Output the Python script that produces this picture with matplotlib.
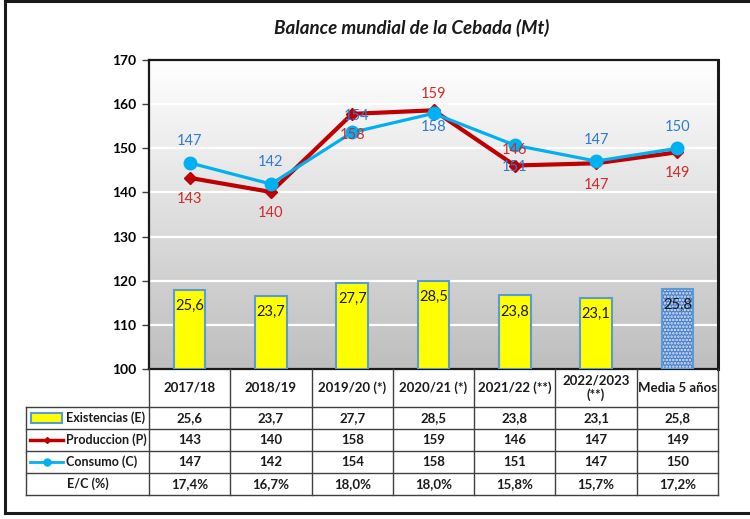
import numpy as np
import matplotlib
matplotlib.use("Agg")
import matplotlib.pyplot as plt
from matplotlib.lines import Line2D
from matplotlib.patches import Rectangle

plt.rcParams['font.family'] = ['Lato', 'DejaVu Sans']

# ---------------- data ----------------
categories = ["2017/18", "2018/19", "2019/20 (*)", "2020/21 (*)", "2021/22 (**)",
              "2022/2023\n(**)", "Media 5 años"]
existencias = [25.6, 23.7, 27.7, 28.5, 23.8, 23.1, 25.8]
produccion = [143.3, 140.1, 157.8, 158.6, 146.1, 146.6, 149.1]
consumo = [146.7, 141.9, 153.6, 157.9, 150.7, 147.1, 150.0]
ratio_ec = ["17,4%", "16,7%", "18,0%", "18,0%", "15,8%", "15,7%", "17,2%"]
existencias_txt = ["25,6", "23,7", "27,7", "28,5", "23,8", "23,1", "25,8"]
produccion_txt = ["143", "140", "158", "159", "146", "147", "149"]
consumo_txt = ["147", "142", "154", "158", "151", "147", "150"]
row_labels = ["Existencias (E)", "Produccion (P)", "Consumo (C)", "E/C (%)"]
yticks = [100, 110, 120, 130, 140, 150, 160, 170]

W, H = 750, 519
def fx(x): return x / W
def fy(y): return 1 - y / H

fig = plt.figure(figsize=(7.5, 5.19), dpi=100)
fig.patch.set_facecolor('white')

# outer border
for (x0, y0, x1, y1) in [(5, 1, 5, 513), (5, 1, 752, 1), (5, 513, 752, 513)]:
    fig.add_artist(Line2D([fx(x0), fx(x1)], [fy(y0), fy(y1)], color='#1a1a1a',
                          lw=2.2, transform=fig.transFigure))

L, R, T, B = 149, 718, 60, 369
rect = [fx(L), fy(B), (R - L) / W, (B - T) / H]
ax = fig.add_axes(rect)
n = len(categories)
x = np.arange(n)
ax.set_xlim(-0.5, n - 0.5)
ax.set_ylim(100, 170)

# gradient background
grad = np.linspace(1.0, 0.0, 256).reshape(-1, 1)
top_c = np.array([1.0, 1.0, 1.0])
bot_c = np.array([0.745, 0.745, 0.745])
img = top_c * grad[..., None] + bot_c * (1 - grad[..., None])
ax.imshow(img, extent=[-0.5, n - 0.5, 100, 170], aspect='auto', zorder=0,
          origin='upper')
ax.set_yticks(yticks)
for v in yticks[1:-1]:
    ax.axhline(v, color='white', lw=1.6, zorder=1)
ax.set_xticks([])
ax.tick_params(axis='y', direction='out', length=5, width=1, color='#404040',
               labelsize=10, pad=4)
for lab in ax.get_yticklabels():
    lab.set_fontweight('bold')
for s in ['left', 'bottom', 'top']:
    ax.spines[s].set_color('#1a1a1a')
    ax.spines[s].set_linewidth(1.6)
ax.spines['right'].set_color('#1a1a1a')
ax.spines['right'].set_linewidth(2.2)

# bars on twin axis (0-100)
axb = ax.twinx()
axb.set_ylim(0, 100)
axb.set_xlim(-0.5, n - 0.5)
axb.axis('off')
bw = 0.39
plt.rcParams['hatch.color'] = '#dfe9f7'
plt.rcParams['hatch.linewidth'] = 1.2
for i in range(n):
    if i < n - 1:
        axb.bar(x[i], existencias[i], width=bw, color='#ffff00',
                edgecolor='#5b9bd5', linewidth=1.5, zorder=2)
    else:
        axb.bar(x[i], existencias[i], width=bw, color='#4a7fcc',
                hatch='.....', linewidth=0, zorder=2)
        axb.bar(x[i], existencias[i], width=bw, color='none',
                edgecolor='#5b9bd5', linewidth=1.5, zorder=3)
    axb.annotate(existencias_txt[i], (x[i], existencias[i]), xytext=(0, -11.5),
                 textcoords='offset points', ha='center', va='center',
                 fontsize=10.5, color='#1a1a1a', zorder=5)

# lines on another twin axis (100-170)
axl = ax.twinx()
axl.set_ylim(100, 170)
axl.set_xlim(-0.5, n - 0.5)
axl.axis('off')
red = '#c00000'
blue = '#00b0f0'
axl.plot(x, produccion, color=red, lw=3, marker='D', markersize=6.5, zorder=4)
axl.plot(x, consumo, color=blue, lw=2.3, marker='o', markersize=9, zorder=5)

# data labels (pixel offsets converted to points)
cons_off = [(0, -21.5), (0, -22), (4, -16), (0, 14), (0, 22), (0, -21), (0, -21)]
prod_off = [(0, 21.5), (0, 21.5), (0, 21), (0, -16), (0, -16), (0, 22), (0, 21)]
for i in range(n):
    dx, dy = cons_off[i]
    axl.annotate(consumo_txt[i], (x[i], consumo[i]), xytext=(dx * 0.72, -dy * 0.72),
                 textcoords='offset points', ha='center', va='center',
                 fontsize=10.5, color='#2e7bcf', zorder=7)
    dx, dy = prod_off[i]
    axl.annotate(produccion_txt[i], (x[i], produccion[i]), xytext=(dx * 0.72, -dy * 0.72),
                 textcoords='offset points', ha='center', va='center',
                 fontsize=10.5, color='#d02b2b', zorder=6)

# title
fig.text(fx(412), fy(28), "Balance mundial de la Cebada (Mt)", ha='center',
         va='center', fontsize=13.5, fontweight='bold', fontstyle='italic',
         color='#1a1a1a')

# ---------------- data table ----------------
colw = (R - L) / n
col_x = [L + colw * k for k in range(n + 1)]
row_y = [369, 407, 429, 451, 473, 495]
lc = '#404040'
def fline(x0, y0, x1, y1, c=lc, lw=1.0):
    fig.add_artist(Line2D([fx(x0), fx(x1)], [fy(y0), fy(y1)], color=c, lw=lw,
                          transform=fig.transFigure))
for cx in col_x:
    fline(cx, 369, cx, 495)
fline(26, 407, 26, 495)
for ry in row_y[1:]:
    fline(26, ry, R, ry)

rows = [existencias_txt, produccion_txt, consumo_txt, ratio_ec]
for i in range(n):
    cx = (col_x[i] + col_x[i + 1]) / 2
    fig.text(fx(cx), fy(388), categories[i], ha='center', va='center',
             fontsize=9.5, fontweight='bold', color='#1a1a1a', linespacing=1.2)
    for r in range(4):
        cy = (row_y[r + 1] + row_y[r + 2]) / 2
        fig.text(fx(cx), fy(cy), rows[r][i], ha='center', va='center',
                 fontsize=9.5, fontweight='bold', color='#1a1a1a')

# row labels with legend keys
for r in range(4):
    cy = (row_y[r + 1] + row_y[r + 2]) / 2
    if r < 3:
        fig.text(fx(66), fy(cy), row_labels[r], ha='left', va='center',
                 fontsize=9, fontweight='bold', color='#1a1a1a')
    else:
        fig.text(fx(88), fy(cy), row_labels[r], ha='center', va='center',
                 fontsize=9, fontweight='bold', color='#1a1a1a')
cy0 = (row_y[1] + row_y[2]) / 2
fig.add_artist(Rectangle((fx(31), fy(cy0 + 5)), 31 / W, 10 / H, facecolor='#ffff00',
                         edgecolor='#5b9bd5', lw=1.5, transform=fig.transFigure))
cy1 = (row_y[2] + row_y[3]) / 2
fig.add_artist(Line2D([fx(30), fx(47), fx(63)], [fy(cy1)] * 3, color=red, lw=2.5,
                      marker='D', markersize=3, markevery=[1],
                      transform=fig.transFigure))
cy2 = (row_y[3] + row_y[4]) / 2
fig.add_artist(Line2D([fx(30), fx(47), fx(63)], [fy(cy2)] * 3, color=blue, lw=2,
                      marker='o', markersize=5, markevery=[1],
                      transform=fig.transFigure))

fig.savefig("out.png", dpi=100)
